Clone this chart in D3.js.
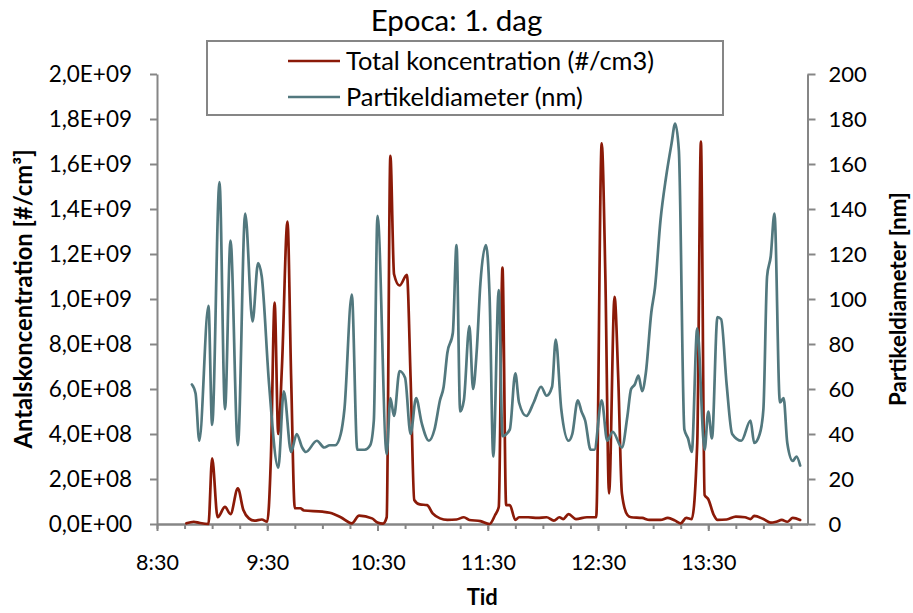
<!DOCTYPE html>
<html>
<head>
<meta charset="utf-8">
<script src="https://cdn.jsdelivr.net/npm/d3@7"></script>
<style>
  html, body { margin: 0; padding: 0; background: #fff; }
  svg { display: block; font-family: Lato, "Open Sans", sans-serif; }
</style>
</head>
<body>
<svg id="chart" width="913" height="613"></svg>
<script>
// Measurement times and values, day 1
const concTimes = [
  "8:46","8:50","8:53","8:58","9:00","9:03","9:07","9:10","9:14","9:17",
  "9:20","9:23","9:27","9:30","9:32","9:34","9:36","9:38","9:41","9:43",
  "9:45","9:48","9:50","10:00","10:04","10:10","10:16","10:20","10:27","10:30",
  "10:33","10:35","10:37","10:39","10:42","10:46","10:48","10:50","10:53","10:57",
  "11:00","11:04","11:08","11:13","11:17","11:20","11:26","11:31","11:34","11:36",
  "11:38","11:40","11:42","11:45","11:47","11:52","11:57","12:02","12:06","12:09",
  "12:11","12:14","12:18","12:24","12:29","12:32","12:34","12:36","12:39","12:41",
  "12:43","12:46","12:48","12:54","12:58","13:04","13:08","13:12","13:15","13:18",
  "13:21","13:24","13:26","13:28","13:30","13:33","13:35","13:40","13:45","13:50",
  "13:53","13:55","14:00","14:04","14:07","14:10","14:13","14:16","14:20"
];
// Total koncentration (#/cm3)
const concValues = [
  3e6, 1.0e7, 5e6, 0, 2.92e8, 3.0e7, 7.6e7, 4.4e7, 1.58e8, 6.2e7,
  2.5e7, 1.5e7, 2.0e7, 1.0e7, 3.0e8, 9.84e8, 4.0e8, 7.0e8, 1.344e9, 6.5e8,
  7.0e7, 7.0e7, 6.0e7, 5.5e7, 5.0e7, 3.0e7, 3e6, 3.7e7, 2.5e7, 7e6,
  2e6, 3.0e7, 1.636e9, 1.11e9, 1.06e9, 1.107e9, 6.5e8, 1.07e8, 8.7e7, 8.4e7,
  4.7e7, 2.5e7, 1.8e7, 2.0e7, 3.0e7, 1.8e7, 1.3e7, 0, 4.0e7, 7.7e7,
  1.14e9, 8.4e7, 8.4e7, 1.8e7, 3.0e7, 3.0e7, 2.7e7, 3.0e7, 1.5e7, 3.0e7,
  2.2e7, 4.4e7, 2.2e7, 3.0e7, 3.0e7, 1.692e9, 1.10e9, 1.36e8, 1.01e9, 6.5e8,
  1.36e8, 4.0e7, 3.0e7, 2.7e7, 1.8e7, 1.8e7, 2.7e7, 1.5e7, 3e6, 2.7e7,
  2.2e7, 3.6e8, 1.699e9, 1.29e8, 1.10e8, 4.0e7, 1.8e7, 2.0e7, 3.3e7, 3.0e7,
  2.2e7, 3.6e7, 2.2e7, 6e6, 1.0e7, 1.8e7, 1.0e7, 2.7e7, 1.8e7
];

const diamTimes = [
  "8:49","8:51","8:53","8:58","9:00","9:04","9:07","9:10","9:14","9:18",
  "9:22","9:25","9:27","9:31","9:36","9:39","9:43","9:46","9:49","9:51",
  "9:57","10:01","10:04","10:07","10:10","10:12","10:16","10:19","10:23","10:26",
  "10:28","10:30","10:35","10:37","10:39","10:42","10:45","10:48","10:51","10:54",
  "10:58","11:01","11:04","11:06","11:08","11:11","11:13","11:15","11:17","11:20",
  "11:22","11:24","11:26","11:29","11:31","11:33","11:36","11:38","11:42","11:45",
  "11:47","11:51","11:55","11:59","12:02","12:05","12:07","12:10","12:14","12:16",
  "12:19","12:21","12:23","12:26","12:28","12:32","12:35","12:38","12:43","12:46",
  "12:48","12:50","12:52","12:54","12:56","12:59","13:01","13:04","13:07","13:10",
  "13:12","13:14","13:17","13:19","13:21","13:24","13:28","13:30","13:32","13:35",
  "13:37","13:40","13:43","13:48","13:53","13:55","13:58","14:00","14:02","14:04",
  "14:06","14:09","14:11","14:13","14:16","14:18","14:20"
];
// Partikeldiameter (nm)
const diamValues = [
  62, 58, 37, 97, 44, 152, 51, 126, 35, 138,
  90, 116, 110, 62, 25, 59, 32, 40, 34, 32,
  37, 34, 35, 35, 40, 51, 102, 33, 33, 35,
  46, 137, 31, 56, 48, 68, 65, 40, 56, 45,
  37, 42, 55, 61, 76, 85, 124, 50, 55, 88,
  60, 77, 107, 124, 101, 30, 104, 39, 42, 67,
  54, 48, 54, 61, 57, 61, 82, 51, 37, 40,
  55, 50, 46, 33, 33, 55, 37, 41, 34, 48,
  60, 62, 66, 59, 67, 94, 105, 135, 154, 169,
  178, 166, 42, 38, 32, 87, 33, 50, 38, 92,
  91, 62, 40, 37, 46, 36, 40, 51, 110, 119,
  138, 54, 56, 36, 28, 30, 26
];

// Axis settings
const timeStart = "8:30";
const timeEnd = "14:24";
const concTicks = d3.range(0, 2.0e9 + 1, 2.0e8);
const diamTicks = d3.range(0, 201, 20);
const seriesNames = ["Total koncentration (#/cm3)", "Partikeldiameter (nm)"];
const seriesColors = ["#8b1a08", "#52787e"];

const chartTitle = "Epoca: 1. dag";
const xTitle = "Tid";
const yLeftTitle = "Antalskoncentration [#/cm\u00B3]";
const yRightTitle = "Partikeldiameter [nm]";

const parseTime = d3.timeParse("%H:%M");
const W = 913, H = 613;
const plot = { left: 157, right: 807.5, top: 74, bottom: 524 };
const axisColor = "#868686";

const svg = d3.select("#chart");
svg.append("rect").attr("width", W).attr("height", H).attr("fill", "#fff");

const x = d3.scaleTime()
  .domain([parseTime(timeStart), parseTime(timeEnd)])
  .range([plot.left, plot.right]);
const yL = d3.scaleLinear().domain([0, 2.0e9]).range([plot.bottom, plot.top]);
const yR = d3.scaleLinear().domain([0, 200]).range([plot.bottom, plot.top]);

// "1,2E+09" style labels
function sciComma(v) {
  if (v === 0) return "0,0E+00";
  const e = Math.floor(Math.log10(v) + 1e-9);
  const m = v / Math.pow(10, e);
  return m.toFixed(1).replace(".", ",") + "E+" + String(e).padStart(2, "0");
}

function styleAxis(g, size) {
  g.select(".domain").attr("stroke", axisColor).attr("stroke-width", 2);
  g.selectAll(".tick line").attr("stroke", axisColor).attr("stroke-width", 2);
  g.selectAll(".tick text").attr("fill", "#000")
    .style("font-size", size + "px").style("font-family", "Lato, sans-serif");
}

// Left axis
const gL = svg.append("g").attr("transform", `translate(${plot.left},0)`)
  .call(d3.axisLeft(yL).tickValues(concTicks).tickFormat(sciComma)
    .tickSize(7).tickSizeOuter(0).tickPadding(18));
styleAxis(gL, 22.5);

// Right axis
const gR = svg.append("g").attr("transform", `translate(${plot.right},0)`)
  .call(d3.axisRight(yR).tickValues(diamTicks).tickFormat(d3.format("d"))
    .tickSize(8).tickSizeOuter(0).tickPadding(13));
styleAxis(gR, 22);

// Bottom axis: quarter-hour minor ticks, hourly labels
const minorTicks = d3.timeMinute.every(15).range(x.domain()[0], x.domain()[1]);
const majorTicks = minorTicks.filter((d, i) => i % 4 === 0);
const gXminor = svg.append("g").attr("transform", `translate(0,${plot.bottom})`)
  .call(d3.axisBottom(x).tickValues(minorTicks).tickFormat("").tickSize(5).tickSizeOuter(0));
styleAxis(gXminor, 21.5);
const gX = svg.append("g").attr("transform", `translate(0,${plot.bottom})`)
  .call(d3.axisBottom(x).tickValues(majorTicks).tickFormat(d3.timeFormat("%-H:%M"))
    .tickSize(7).tickSizeOuter(0).tickPadding(24));
styleAxis(gX, 21.5);

// Series
const concData = concTimes.map((t, i) => ({ t: parseTime(t), v: concValues[i] }));
const diamData = diamTimes.map((t, i) => ({ t: parseTime(t), v: diamValues[i] }));

const lineL = d3.line().x(d => x(d.t)).y(d => yL(d.v)).curve(d3.curveMonotoneX);
const lineR = d3.line().x(d => x(d.t)).y(d => yR(d.v)).curve(d3.curveMonotoneX);

svg.append("path").datum(concData).attr("d", lineL)
  .attr("fill", "none").attr("stroke", seriesColors[0])
  .attr("stroke-width", 2.7).attr("stroke-linejoin", "round").attr("stroke-linecap", "round");
svg.append("path").datum(diamData).attr("d", lineR)
  .attr("fill", "none").attr("stroke", seriesColors[1])
  .attr("stroke-width", 2.7).attr("stroke-linejoin", "round").attr("stroke-linecap", "round");

// Title
svg.append("text").attr("x", W / 2).attr("y", 31).attr("text-anchor", "middle")
  .style("font-size", "29.5px").attr("fill", "#000").text(chartTitle);

// Legend
const legend = svg.append("g");
legend.append("rect").attr("x", 207).attr("y", 41).attr("width", 516).attr("height", 74)
  .attr("fill", "#fff").attr("stroke", axisColor).attr("stroke-width", 2);
seriesNames.forEach((name, i) => {
  const cy = 61 + i * 36;
  legend.append("line").attr("x1", 288).attr("x2", 340).attr("y1", cy).attr("y2", cy)
    .attr("stroke", seriesColors[i]).attr("stroke-width", 2.7);
  legend.append("text").attr("x", 346).attr("y", cy).attr("dy", "0.35em")
    .style("font-size", "25.4px").attr("fill", "#000").text(name);
});

// Axis titles
svg.append("text").attr("transform", `translate(32,${(plot.top + plot.bottom) / 2}) rotate(-90)`)
  .attr("text-anchor", "middle").style("font-size", "23.8px").style("font-weight", "bold")
  .attr("fill", "#000").text(yLeftTitle);
svg.append("text").attr("transform", `translate(906,${(plot.top + plot.bottom) / 2}) rotate(-90)`)
  .attr("text-anchor", "middle").style("font-size", "22.3px").style("font-weight", "bold")
  .attr("fill", "#000").text(yRightTitle);
svg.append("text").attr("x", (plot.left + plot.right) / 2).attr("y", 605)
  .attr("text-anchor", "middle").style("font-size", "22px").style("font-weight", "bold")
  .attr("fill", "#000").text(xTitle);
</script>
</body>
</html>
